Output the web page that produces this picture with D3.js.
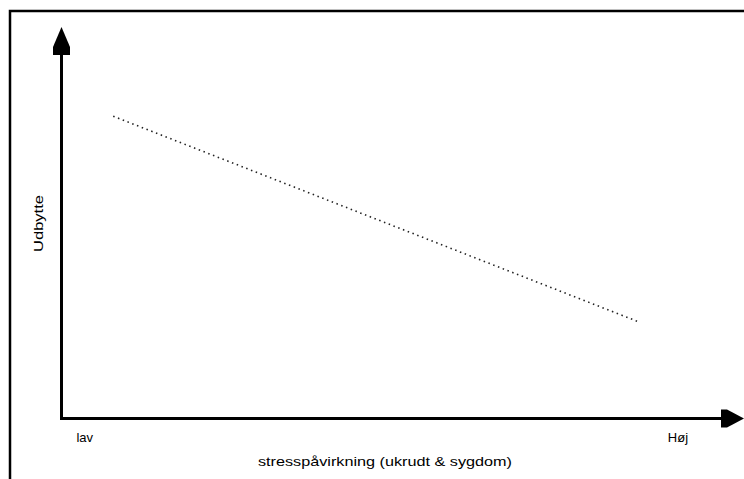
<!DOCTYPE html>
<html><head><meta charset="utf-8">
<script src="https://cdn.jsdelivr.net/npm/d3@7"></script>
<style>body{margin:0;background:#fff}svg{display:block}text{font-family:"Liberation Sans",Arial,sans-serif;fill:#000}</style>
</head><body>
<script>
const xTickLabels = ["lav", "Høj"];
const xTickPositions = [2.2, 89.1];
const xTitle = "stresspåvirkning (ukrudt & sygdom)";
const yTitle = "Udbytte";
const stressLevels = [7.6, 84.6];
const yieldValues = [77.4, 24.9];

const W = 744, H = 479;
const svg = d3.select("body").append("svg").attr("width", W).attr("height", H);

const x = d3.scaleLinear().domain([0, 100]).range([61.5, 742]);
const y = d3.scaleLinear().domain([0, 100]).range([418.5, 28]);

// frame
svg.append("path").attr("d", `M10,${H} L10,11 L${W},11`).attr("fill","none").attr("stroke","#000").attr("stroke-width",2.5);

// axes
const ax = x(0), ay = y(0);
svg.append("line").attr("x1", ax).attr("x2", ax).attr("y1", ay+1.5).attr("y2", 50).attr("stroke","#000").attr("stroke-width",3);
svg.append("line").attr("x1", ax-1.5).attr("x2", 725).attr("y1", ay).attr("y2", ay).attr("stroke","#000").attr("stroke-width",3);

// arrowheads
svg.append("path").attr("d", `M${ax},27 L${ax+8.5},47 L${ax+8.5},55 L${ax-8.5},55 L${ax-8.5},47 Z`).attr("fill","#000");
svg.append("path").attr("d", `M744,${ay} L727,${ay-9} L721,${ay-9} L721,${ay+9} L727,${ay+9} Z`).attr("fill","#000");

// tick labels
xTickLabels.forEach((t, i) => {
  svg.append("text").attr("x", x(xTickPositions[i])).attr("y", 442).attr("font-size", 13).text(t);
});

// titles
svg.append("text").attr("x", 258).attr("y", 466).attr("font-size", 13)
  .attr("textLength", 254).attr("lengthAdjust","spacingAndGlyphs").text(xTitle);
svg.append("text").attr("transform", "translate(43,252) rotate(-90)").attr("font-size", 13)
  .attr("textLength", 57).attr("lengthAdjust","spacingAndGlyphs").text(yTitle);

// dotted line
const line = d3.line().x((d,i) => x(stressLevels[i])).y(d => y(d));
svg.append("path").datum(yieldValues).attr("d", line).attr("fill","none")
  .attr("stroke","#222").attr("stroke-width",1.6).attr("stroke-dasharray","1.5,3.6");
</script>
</body></html>
